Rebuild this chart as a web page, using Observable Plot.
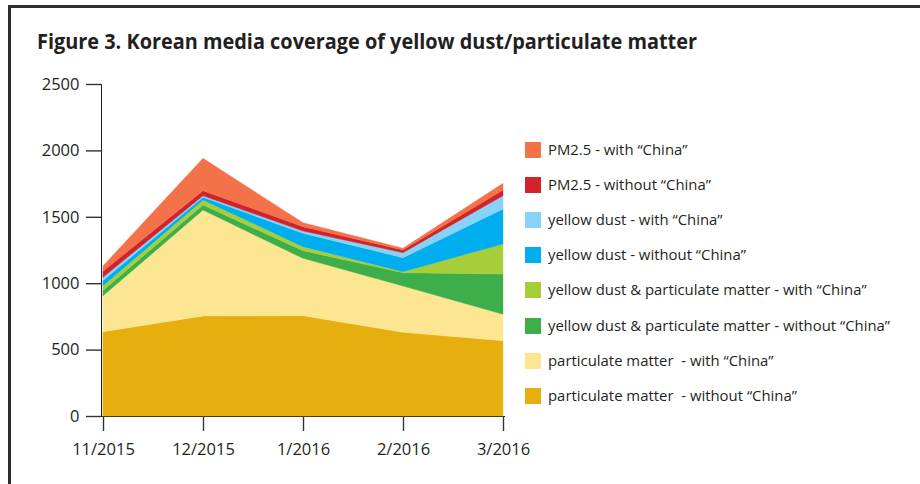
<!DOCTYPE html>
<html>
<head>
<meta charset="utf-8">
<script src="https://cdn.jsdelivr.net/npm/d3@7"></script>
<script src="https://cdn.jsdelivr.net/npm/@observablehq/plot@0.6"></script>
<style>
  html, body { margin: 0; padding: 0; background: #fff; }
  #wrap { position: relative; width: 920px; height: 484px; overflow: hidden; font-family: "Open Sans", sans-serif; color: #231f20; }
  #frame { position: absolute; left: 8px; top: 5px; width: 1000px; height: 1000px; border-left: 3px solid #2e2e2e; border-top: 3px solid #2e2e2e; }
  #title { position: absolute; left: 37px; top: 31px; font-size: 21px; line-height: 21px; font-weight: 700; white-space: nowrap; transform-origin: left center; }
  #chart { position: absolute; left: 0; top: 60px; }
  #legend { position: absolute; left: 0; top: 0; }
  .sw { position: absolute; width: 16px; height: 16px; }
  .lt { position: absolute; font-size: 14px; line-height: 16px; white-space: pre; transform-origin: left center; color: #231f20; }
</style>
</head>
<body>
<div id="wrap">
  <div id="frame"></div>
  <div id="title">Figure 3. Korean media coverage of yellow dust/particulate matter</div>
  <div id="chart"></div>
  <div id="legend"></div>
</div>
<script>
// Categories (x axis)
const months = ["11/2015", "12/2015", "1/2016", "2/2016", "3/2016"];

// Series names, stacked bottom to top
const seriesNames = [
  "particulate matter  - without \u201cChina\u201d",
  "particulate matter  - with \u201cChina\u201d",
  "yellow dust & particulate matter - without \u201cChina\u201d",
  "yellow dust & particulate matter - with \u201cChina\u201d",
  "yellow dust - without \u201cChina\u201d",
  "yellow dust - with \u201cChina\u201d",
  "PM2.5 - without \u201cChina\u201d",
  "PM2.5 - with \u201cChina\u201d"
];
const seriesColors = ["#e6af0e", "#fde692", "#3dae49", "#a6ce39", "#00aeef", "#86d3f7", "#d2232a", "#f37249"];

// Series values (per month)
const pmWithout      = [635, 753, 755, 630, 567];
const pmWith         = [270, 798, 432, 349, 199];
const ydpmWithout    = [40, 38, 58, 100, 303];
const ydpmWith       = [35, 38, 30, 8, 226];
const ydWithout      = [40, 20, 101, 105, 264];
const ydWith         = [25, 12, 17, 38, 100];
const pm25Without    = [45, 38, 33, 20, 43];
const pm25With       = [40, 243, 30, 13, 50];

const seriesValues = [pmWithout, pmWith, ydpmWithout, ydpmWith, ydWithout, ydWith, pm25Without, pm25With];

// Y tick labels
const yTicks = [0, 500, 1000, 1500, 2000, 2500];

const data = [];
seriesNames.forEach((s, i) => {
  months.forEach((m, j) => data.push({month: m, series: s, value: seriesValues[i][j]}));
});

const axisColor = "#333333";

const chart = Plot.plot({
  width: 540,
  height: 406,
  marginLeft: 101,
  marginRight: 36,
  marginTop: 24,
  marginBottom: 50,
  style: {fontFamily: "Open Sans", fontSize: "16.5px", color: "#231f20", background: "transparent", overflow: "visible"},
  x: {type: "point", domain: months, padding: 0, tickSize: 15, tickPadding: 12, label: null, line: true},
  y: {domain: [0, 2500], ticks: yTicks, tickFormat: d3.format("d"), tickSize: 15, tickPadding: 7, label: null, line: true},
  color: {domain: seriesNames, range: seriesColors},
  marks: [
    Plot.areaY(data, {x: "month", y: "value", z: "series", fill: "series", stroke: "series", strokeWidth: 0.4})
  ]
});
chart.style.color = "#231f20";
d3.select(chart).selectAll("line, path").filter(function() { return this.closest("[aria-label$='axis']") || this.closest("[aria-label*='tick']"); })
  .attr("stroke", axisColor).attr("stroke-width", 1.4);
document.getElementById("chart").appendChild(chart);

// Legend (top to bottom = reverse stack order)
const legend = document.getElementById("legend");
const order = seriesNames.map((s, i) => i).reverse();
const rows = [];
order.forEach((i, r) => {
  const cy = 150 + r * 35.1;
  const sw = document.createElement("div");
  sw.className = "sw";
  sw.style.left = "525px";
  sw.style.top = (cy - 8) + "px";
  sw.style.background = seriesColors[i];
  legend.appendChild(sw);
  const t = document.createElement("div");
  t.className = "lt";
  t.style.left = "548px";
  t.style.top = (cy - 8) + "px";
  t.textContent = seriesNames[i];
  legend.appendChild(t);
  rows.push(t);
});
const maxW = Math.max(...rows.map(t => t.getBoundingClientRect().width));
const k = 342 / maxW;
rows.forEach(t => t.style.transform = `scaleX(${k})`);

const title = document.getElementById("title");
const tw = title.getBoundingClientRect().width;
title.style.transform = `scaleX(${660 / tw})`;
</script>
</body>
</html>
